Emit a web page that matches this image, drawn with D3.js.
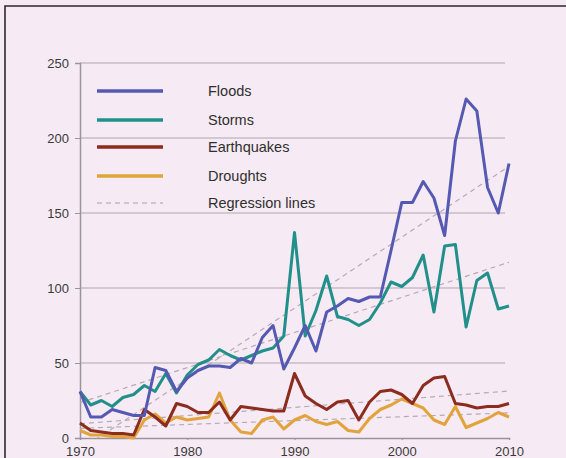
<!doctype html>
<html>

<head>
    <meta charset="utf-8">
    <title>Disasters</title>
    <style>
    body {
        margin: 0;
        background: #f6ebf4;
    }
    text {
        font-family: "Liberation Sans", Arial, sans-serif;
    }
    </style>
    <script src="https://cdn.jsdelivr.net/npm/d3@7"></script>
</head>

<body>
    <svg width="566" height="458"></svg>
    <script>
    var years = d3.range(1970, 2011);

    var floods = [31, 14, 14, 19, 17, 15, 15, 47, 45, 31, 40, 45, 48, 48, 47, 53, 50, 67, 75, 46,
        60, 75, 58, 84, 88, 93, 91, 94, 94, 125, 157, 157, 171, 160, 135, 198, 226, 218, 167, 150, 183];
    var storms = [31, 22, 25, 21, 27, 29, 35, 31, 43, 30, 42, 49, 52, 59, 55, 52, 55, 58, 60, 68,
        137, 68, 85, 108, 81, 79, 75, 79, 90, 104, 101, 107, 122, 84, 128, 129, 74, 105, 110, 86, 88];
    var earthquakes = [10, 5, 4, 3, 3, 2, 19, 14, 8, 23, 21, 17, 17, 24, 12, 21, 20, 19, 18, 18,
        43, 28, 23, 19, 24, 25, 12, 24, 31, 32, 29, 23, 35, 40, 41, 23, 22, 20, 21, 21, 23];
    var droughts = [5, 2, 2, 1, 1, 0, 12, 16, 10, 14, 12, 13, 14, 30, 12, 4, 3, 12, 14, 6,
        12, 15, 11, 9, 11, 5, 4, 13, 19, 22, 26, 23, 20, 12, 9, 21, 7, 10, 13, 17, 14];

    var seriesNames = ["Floods", "Storms", "Earthquakes", "Droughts"];
    var seriesColors = ["#5559b2", "#22908a", "#8c2c1e", "#e3a33c"];
    var yTicks = [0, 50, 100, 150, 200, 250];
    var xTicks = [1970, 1980, 1990, 2000, 2010];

    var series = [floods, storms, earthquakes, droughts].map(function(v, i) {
        return { name: seriesNames[i], color: seriesColors[i], values: v };
    });

    var svg = d3.select("svg");

    var x = d3.scaleLinear().domain([1970, 2010]).range([80, 509]);
    var y = d3.scaleLinear().domain([0, 250]).range([438, 63]);

    svg.append("clipPath")
        .attr("id", "plot")
        .append("rect")
        .attr("x", x(1970))
        .attr("y", y(250))
        .attr("width", x(2010) - x(1970))
        .attr("height", y(0) - y(250));

    // outer frame (left and top only)
    svg.append("path")
        .attr("d", "M5,458V6H566")
        .attr("fill", "none")
        .attr("stroke", "#2b2b2b")
        .attr("stroke-width", 1.6);

    // grid
    svg.append("g")
        .selectAll("line")
        .data(yTicks.slice(1))
        .enter().append("line")
        .attr("x1", x(1970))
        .attr("x2", x(2010) - 4)
        .attr("y1", y)
        .attr("y2", y)
        .attr("stroke", "#c4bcc4")
        .attr("stroke-width", 1.5);

    var yAxis = svg.append("g")
        .attr("transform", "translate(" + x(1970) + ",0)")
        .call(d3.axisLeft(y).tickValues(yTicks).tickSize(5).tickPadding(6));

    var xAxis = svg.append("g")
        .attr("transform", "translate(0," + y(0) + ")")
        .call(d3.axisBottom(x).tickValues(xTicks).tickFormat(d3.format("d")).tickSize(2).tickPadding(7));

    [yAxis, xAxis].forEach(function(a) {
        a.select(".domain").attr("stroke", "#9a949a").attr("stroke-width", 1.5);
        a.selectAll(".tick line").attr("stroke", "#9a949a");
        a.selectAll("text")
            .attr("fill", "#3a3a3a")
            .style("font-size", "13px")
            .style("font-family", "'Liberation Sans', Arial, sans-serif");
    });

    // regression lines
    function fit(v) {
        var mx = d3.mean(years), my = d3.mean(v);
        var sxy = d3.sum(years, function(t, i) { return (t - mx) * (v[i] - my); });
        var sxx = d3.sum(years, function(t) { return (t - mx) * (t - mx); });
        var b = sxy / sxx;
        return [[1970, my + b * (1970 - mx)], [2010, my + b * (2010 - mx)]];
    }

    var line = d3.line()
        .x(function(d) { return x(d[0]); })
        .y(function(d) { return y(d[1]); });

    svg.append("g")
        .attr("clip-path", "url(#plot)")
        .selectAll("path")
        .data(series)
        .enter().append("path")
        .attr("d", function(s) { return line(fit(s.values)); })
        .attr("fill", "none")
        .attr("stroke", "#b5aab4")
        .attr("stroke-width", 1.2)
        .attr("stroke-dasharray", "5,4");

    svg.append("g")
        .selectAll("path")
        .data(series.slice().reverse())
        .enter().append("path")
        .attr("d", function(s) {
            return line(s.values.map(function(v, i) { return [years[i], v]; }));
        })
        .attr("fill", "none")
        .attr("stroke", function(s) { return s.color; })
        .attr("stroke-width", 3)
        .attr("stroke-linejoin", "round");

    // legend
    var legendY = [91, 120, 147, 176, 203];
    var legend = svg.append("g");
    var items = series.map(function(s) { return { name: s.name, color: s.color, dash: null }; })
        .concat([{ name: "Regression lines", color: "#aaa0a8", dash: "5,4" }]);

    var row = legend.selectAll("g")
        .data(items)
        .enter().append("g")
        .attr("transform", function(d, i) { return "translate(0," + legendY[i] + ")"; });

    row.append("line")
        .attr("x1", 97)
        .attr("x2", 163)
        .attr("stroke", function(d) { return d.color; })
        .attr("stroke-width", function(d) { return d.dash ? 1.2 : 3.5; })
        .attr("stroke-dasharray", function(d) { return d.dash; });

    row.append("text")
        .attr("x", 208)
        .attr("dy", "0.35em")
        .attr("fill", "#2f2f2f")
        .style("font-size", "14.5px")
        .text(function(d) { return d.name; });
    </script>
</body>

</html>
